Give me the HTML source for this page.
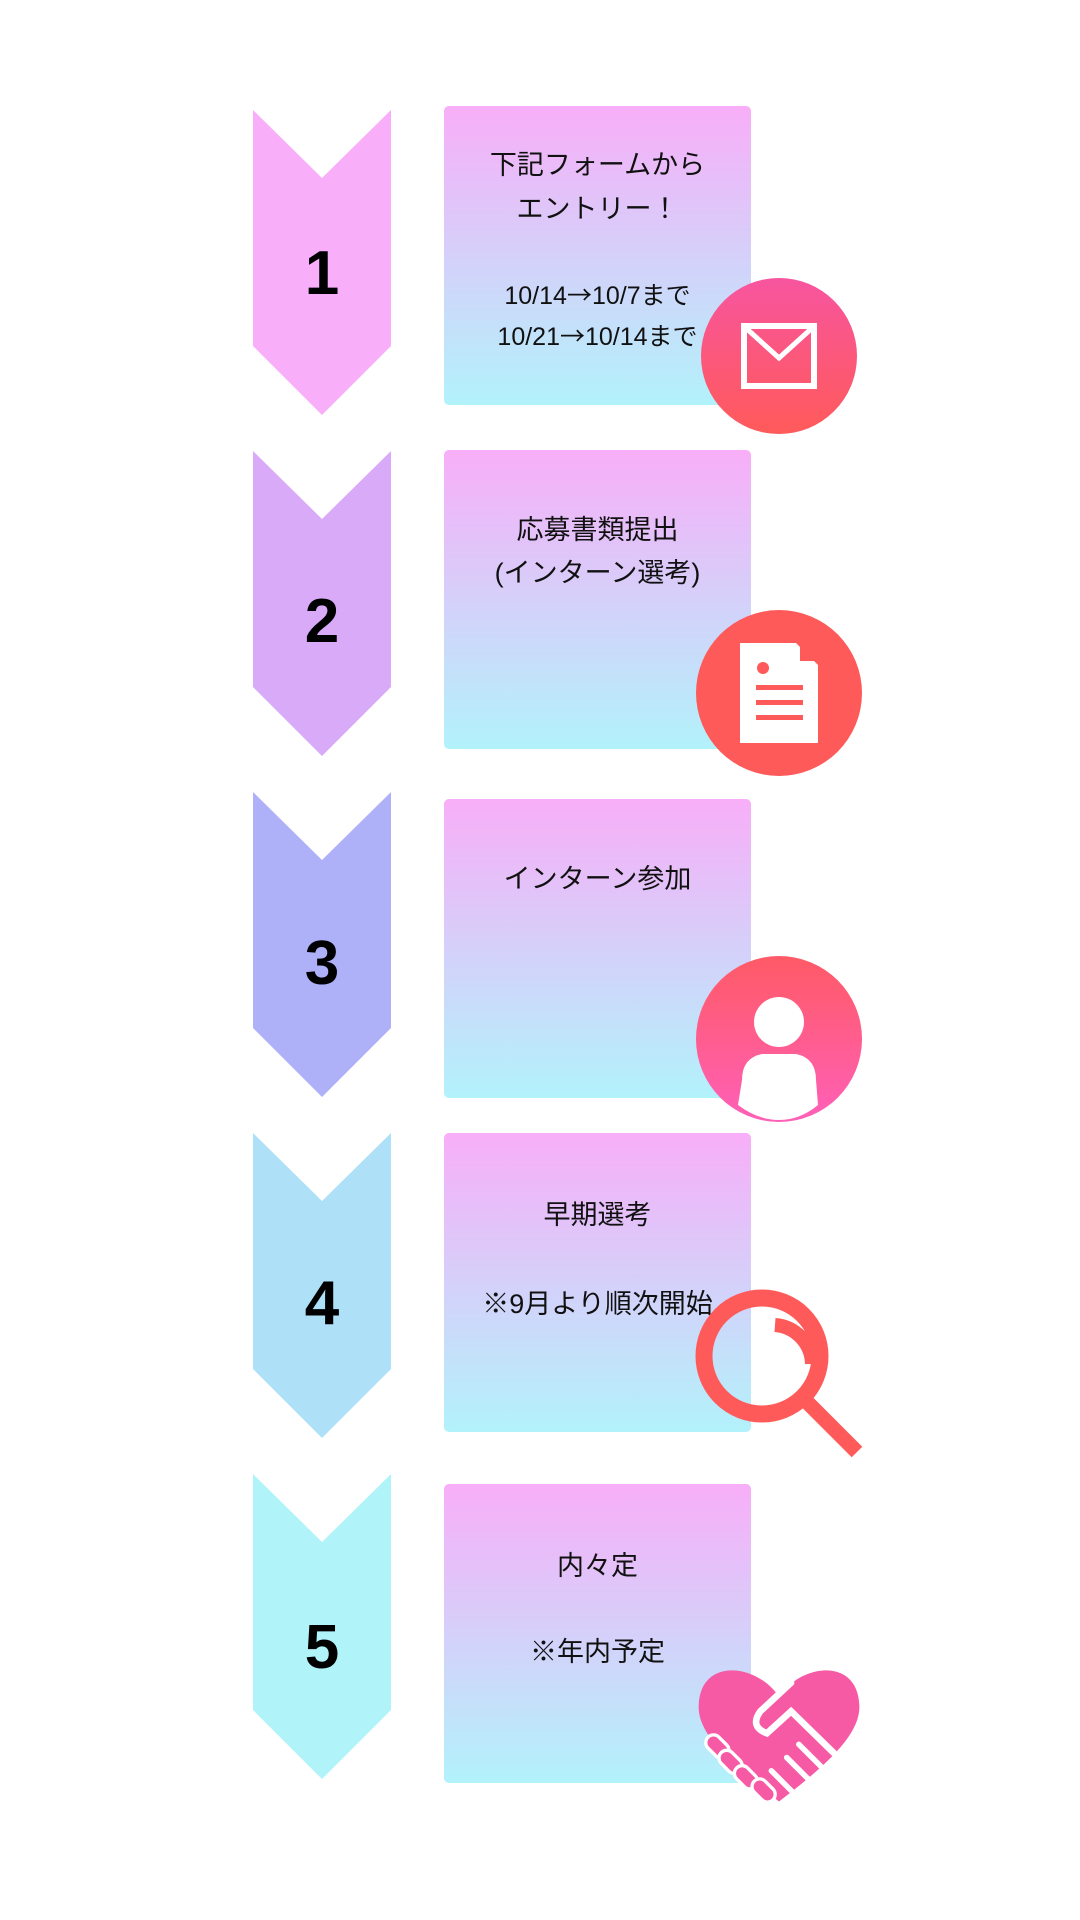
<!DOCTYPE html>
<html><head><meta charset="utf-8"><style>
body{margin:0;width:1080px;height:1920px;background:#fff;position:relative;overflow:hidden;font-family:"Liberation Sans","Noto Sans CJK JP",sans-serif}
.num{position:absolute;left:253px;width:138px;text-align:center;font-weight:bold;font-size:62px;color:#000}
.box{position:absolute;left:444px;width:307px;height:299px;border-radius:5px;background:linear-gradient(#f8aef8,#b2f2fb)}
.t{position:absolute;left:444px;width:307px;text-align:center;font-size:27px;color:#111;line-height:1}
.a{font-family:"Noto Sans CJK JP",sans-serif}
svg{position:absolute;left:0;top:0}
</style></head><body>
<svg width="1080" height="1920">
<polygon points="253,110 322,178 391,110 391,346 322,415 253,346" fill="#f8aef8"/>
<polygon points="253,451 322,519 391,451 391,687 322,756 253,687" fill="#d8aaf8"/>
<polygon points="253,792 322,860 391,792 391,1028 322,1097 253,1028" fill="#aeb0f8"/>
<polygon points="253,1133 322,1201 391,1133 391,1369 322,1438 253,1369" fill="#aee0f8"/>
<polygon points="253,1474 322,1542 391,1474 391,1710 322,1779 253,1710" fill="#b0f4fa"/>
</svg>
<div class="box" style="top:106px"></div>
<div class="box" style="top:450px"></div>
<div class="box" style="top:799px"></div>
<div class="box" style="top:1133px"></div>
<div class="box" style="top:1484px"></div>
<div class="num" style="top:238px">1</div>
<div class="num" style="top:586px">2</div>
<div class="num" style="top:928px">3</div>
<div class="num" style="top:1268px">4</div>
<div class="num" style="top:1612px">5</div>
<div class="t" style="top:152px">下記フォームから</div>
<div class="t" style="top:196px">エントリー！</div>
<div class="t" style="top:282px;font-size:25px">10/14<span class="a">→</span>10/7まで</div>
<div class="t" style="top:323px;font-size:25px">10/21<span class="a">→</span>10/14まで</div>
<div class="t" style="top:517px">応募書類提出</div>
<div class="t" style="top:560px">(インターン選考)</div>
<div class="t" style="top:866px">インターン参加</div>
<div class="t" style="top:1202px">早期選考</div>
<div class="t" style="top:1291px">※9月より順次開始</div>
<div class="t" style="top:1553px">内々定</div>
<div class="t" style="top:1639px">※年内予定</div>
<svg width="1080" height="1920">
<defs>
<linearGradient id="g1" x1="0" y1="0" x2="0" y2="1"><stop offset="0" stop-color="#f7559f"/><stop offset="1" stop-color="#ff5a5a"/></linearGradient>
<linearGradient id="g3" x1="0" y1="0" x2="0" y2="1"><stop offset="0" stop-color="#ff5a66"/><stop offset="1" stop-color="#ff60b8"/></linearGradient>
</defs>
<circle cx="779" cy="356" r="78" fill="url(#g1)"/>
<rect x="744" y="326" width="70" height="60" fill="none" stroke="#fff" stroke-width="6"/>
<polyline points="747,329 779,358 811,329" fill="none" stroke="#fff" stroke-width="5"/>
<circle cx="779" cy="693" r="83" fill="#ff5a5a"/>
<polygon points="740,643 796,643 818,665 818,743 740,743" fill="#fff"/>
<polygon points="800,646 815,661 800,661" fill="#ff5a5a"/>
<circle cx="763" cy="668" r="6" fill="#ff5a5a"/>
<rect x="756" y="685" width="47" height="5" fill="#ff5a5a"/>
<rect x="756" y="700" width="47" height="5" fill="#ff5a5a"/>
<rect x="756" y="715" width="47" height="5" fill="#ff5a5a"/>
<circle cx="779" cy="1039" r="83" fill="url(#g3)"/>
<circle cx="779" cy="1022" r="25" fill="#fff"/>
<path d="M742,1080 Q742,1058 762,1054 L796,1054 Q816,1058 816,1080 L818,1105 Q800,1120 779,1120 Q758,1120 738,1105 Z" fill="#fff"/>
<circle cx="762" cy="1356" r="58" fill="none" stroke="#ff5a5a" stroke-width="17"/>
<path d="M775,1325 A40,40 0 0 1 812,1364" fill="none" stroke="#ff5a5a" stroke-width="14"/>
<line x1="803" y1="1398" x2="857" y2="1452" stroke="#ff5a5a" stroke-width="15"/>
<g transform="translate(779,1730) scale(1.1) translate(-779,-1735)">
<path d="M779,1705 C760,1675 708,1668 706,1712 C704,1740 740,1770 779,1800 C818,1770 854,1740 852,1712 C850,1668 798,1675 779,1705 Z" fill="#f75aa5"/>
<path d="M790,1692 L762,1718 Q752,1732 768,1738 L790,1718 L833,1760" fill="none" stroke="#fff" stroke-width="6" stroke-linecap="round"/>
<line x1="797" y1="1748" x2="820" y2="1771" stroke="#fff" stroke-width="5" stroke-linecap="round"/>
<line x1="786" y1="1760" x2="808" y2="1782" stroke="#fff" stroke-width="5" stroke-linecap="round"/>
<line x1="772" y1="1772" x2="794" y2="1794" stroke="#fff" stroke-width="5" stroke-linecap="round"/>
<rect x="716" y="1738" width="14" height="24" rx="7" transform="rotate(-45 723 1750)" fill="#f75aa5" stroke="#fff" stroke-width="3"/>
<rect x="728" y="1752" width="14" height="24" rx="7" transform="rotate(-45 735 1764)" fill="#f75aa5" stroke="#fff" stroke-width="3"/>
<rect x="742" y="1766" width="14" height="24" rx="7" transform="rotate(-45 749 1778)" fill="#f75aa5" stroke="#fff" stroke-width="3"/>
<rect x="758" y="1778" width="14" height="24" rx="7" transform="rotate(-45 765 1790)" fill="#f75aa5" stroke="#fff" stroke-width="3"/>
</g>
</svg>
</body></html>
